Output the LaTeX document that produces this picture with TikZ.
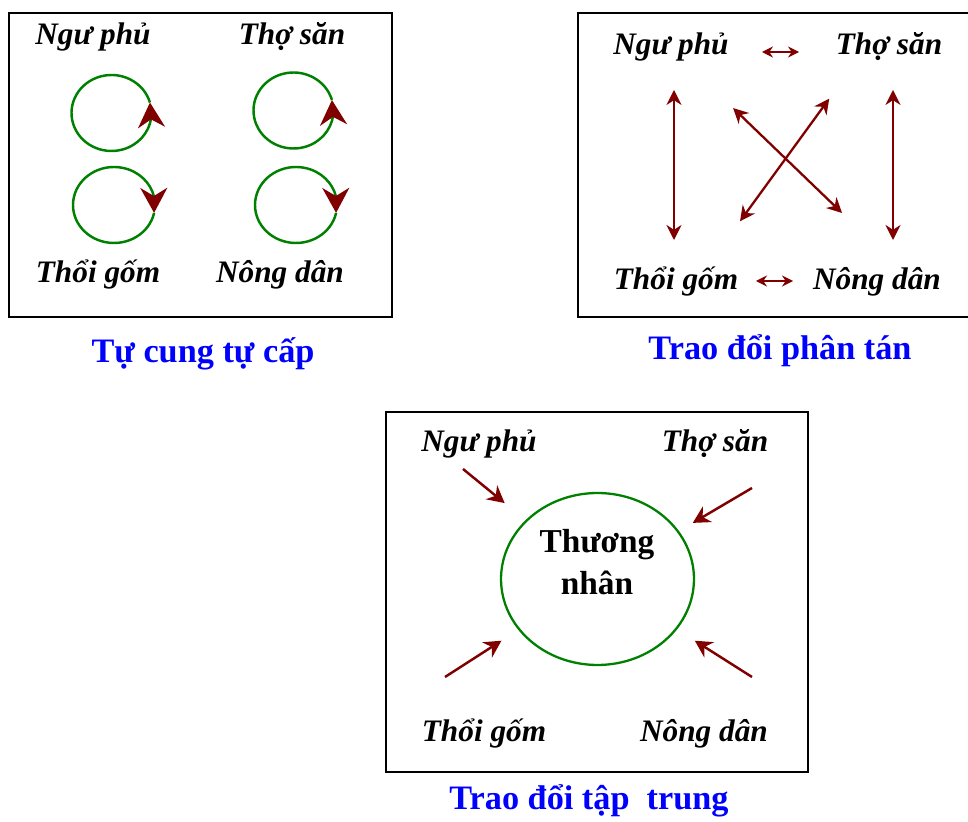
\documentclass[tikz,border=0pt]{standalone}
\usepackage{fontspec}
\setmainfont{Liberation Serif}
\usetikzlibrary{arrows.meta,bending,shapes.geometric}
\definecolor{maroon}{RGB}{128,0,0}
\definecolor{leaf}{RGB}{0,128,0}
\definecolor{capblue}{RGB}{0,0,255}
\tikzset{
  frame/.style={draw, line width=1.2pt},
  who/.style={inner sep=0pt, anchor=base, font=\fontsize{17.8}{21}\selectfont\bfseries\itshape},
  caption/.style={inner sep=0pt, anchor=base, text=capblue, font=\fontsize{19.5}{23}\selectfont\bfseries},
  selfuse/.style={leaf, line width=1.4pt, -{Stealth[length=0.5cm, width=0.54cm, color=maroon, flex]}},
  trade/.style={maroon, line width=1.3pt, {Stealth[length=0.3cm, width=0.3cm]}-{Stealth[length=0.3cm, width=0.3cm]}},
  tradeshort/.style={maroon, line width=1.2pt, {Stealth[length=0.22cm, width=0.22cm]}-{Stealth[length=0.22cm, width=0.22cm]}},
  feed/.style={maroon, line width=1.4pt, -{Stealth[length=0.34cm, width=0.36cm]}},
  hub/.style={ellipse, draw=leaf, line width=1.3pt, minimum width=3.86cm, minimum height=3.44cm}
}
\begin{document}
\begin{tikzpicture}[x=0.02cm, y=0.02cm]
        \useasboundingbox (0,0) rectangle (968,822);

        % tu cung tu cap
        \draw[frame] (9,809) rectangle (392,505);
        \node[who] (ngu1) at (93,777) {Ngư phủ};
        \node[who] (tho1) at (292,777) {Thợ săn};
        \node[who] (thoi1) at (98,539) {Thổi gốm};
        \node[who] (nong1) at (280,539) {Nông dân};
        \coordinate (c11) at (111.5,709);
        \coordinate (c12) at (293.5,711.5);
        \coordinate (c21) at (114,617);
        \coordinate (c22) at (296,617);
        \draw[selfuse] (c11) ++(16:40 and 38) arc[start angle=16, end angle=376, x radius=40, y radius=38];
        \draw[selfuse] (c12) ++(16:40 and 38) arc[start angle=16, end angle=376, x radius=40, y radius=38];
        \draw[selfuse] (c21) ++(348:41 and 38) arc[start angle=348, end angle=-12, x radius=41, y radius=38];
        \draw[selfuse] (c22) ++(348:41 and 38) arc[start angle=348, end angle=-12, x radius=41, y radius=38];
        \node[caption] (t1) at (203,459) {Tự cung tự cấp};

        % trao doi phan tan
        \draw[frame] (578,809) rectangle (972,505);
        \node[who] (ngu2) at (671,767) {Ngư phủ};
        \node[who] (tho2) at (889,767) {Thợ săn};
        \node[who] (thoi2) at (676,532) {Thổi gốm};
        \node[who] (nong2) at (877,532) {Nông dân};
        \draw[tradeshort, shorten <=1.82cm, shorten >=1.8cm] ([yshift=0.06cm]ngu2.base) -- ([yshift=0.06cm]tho2.base);
        \draw[tradeshort, shorten <=1.6cm, shorten >=1.68cm] ([yshift=0.18cm]thoi2.base) -- ([yshift=0.18cm]nong2.base);
        \draw[trade, shorten <=0.7cm, shorten >=1.0cm] ([xshift=0.06cm]ngu2.base) -- ([xshift=0.06cm]ngu2.base |- thoi2.base);
        \draw[trade, shorten <=0.7cm, shorten >=1.0cm] ([xshift=0.08cm]tho2.base) -- ([xshift=0.08cm]tho2.base |- nong2.base);
        \draw[trade, shorten <=1.53cm, shorten >=2.22cm] ([shift={(7,0)}]ngu2.base) -- ([shift={(45,0)}]nong2.base);
        \draw[trade, shorten <=1.7cm, shorten >=1.08cm] ([shift={(14,0)}]thoi2.base) -- ([shift={(-28,0)}]tho2.base);
        \node[caption] (t2) at (780,462) {Trao đổi phân tán};

        % trao doi tap trung
        \draw[frame] (386,410) rectangle (808,50);
        \node[who] (ngu3) at (479,370) {Ngư phủ};
        \node[who] (tho3) at (715,370) {Thợ săn};
        \node[who] (thoi3) at (484,80) {Thổi gốm};
        \node[who] (nong3) at (704,80) {Nông dân};
        \node[hub] (market) at (597.5,243) {};
        \node[align=center, inner sep=0pt, font=\fontsize{19}{23.8}\selectfont\bfseries] (trader) at (597,260) {Thương\\nhân};
        \coordinate (tNW) at (463,353);
        \coordinate (tNE) at (752,334);
        \coordinate (tSW) at (445,145);
        \coordinate (tSE) at (752,145);
        \draw[feed, shorten >=0.54cm] (tNW) -- (market);
        \draw[feed, shorten >=0.32cm] (tNE) -- (market);
        \draw[feed, shorten >=0.4cm] (tSW) -- (market);
        \draw[feed, shorten >=0.42cm] (tSE) -- (market);
        \node[caption] (t3) at (589,12) {Trao đổi tập\ \ trung};
\end{tikzpicture}
\end{document}
